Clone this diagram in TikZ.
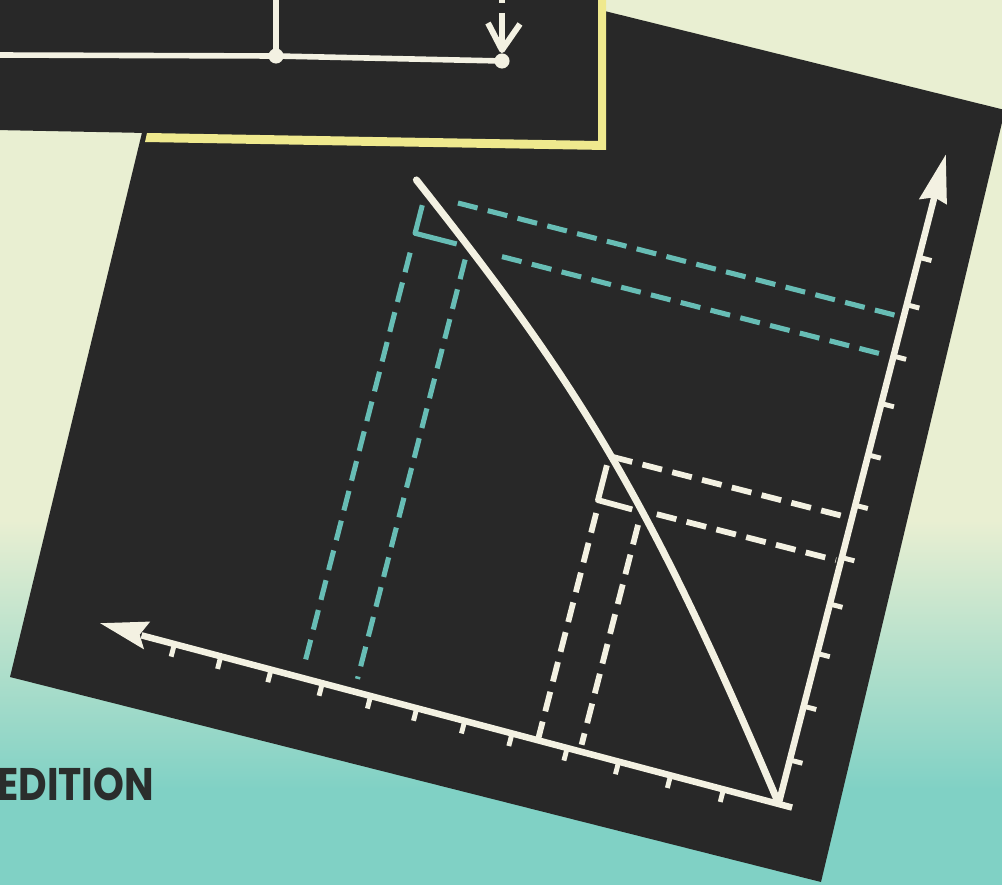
\documentclass[tikz,border=0pt]{standalone}
\usepackage{graphicx}
\usepackage{fontspec}
\newfontfamily\posterfont{Poppins}
\definecolor{palec}{HTML}{E9EFD2}
\definecolor{tealc}{HTML}{80D1C5}
\definecolor{boardc}{HTML}{282828}
\definecolor{chalkc}{HTML}{F3F1E2}
\definecolor{cyanc}{HTML}{67BDB5}
\definecolor{yellowc}{HTML}{EFE98E}
\definecolor{inkc}{HTML}{2A2D2C}
\tikzset{
  wire/.style={draw=chalkc, line width=3.2pt},
  axisline/.style={draw=chalkc, line width=3.7pt},
  tickmark/.style={draw=chalkc, line width=2.8pt},
  curveline/.style={draw=chalkc, line width=4pt, line cap=round},
  cyandash/.style={draw=cyanc, line width=2.9pt, dash pattern=on 11.5pt off 6pt},
  chalkdash/.style={draw=chalkc, line width=3.3pt, dash pattern=on 11.5pt off 6pt},
  cyanleg/.style={draw=cyanc, line width=2.9pt},
  chalkleg/.style={draw=chalkc, line width=3.3pt},
}
\begin{document}
\begin{tikzpicture}[x=0.02cm, y=-0.02cm, line join=round]
\useasboundingbox (0,0) rectangle (1002,885);
\clip (0,0) rectangle (1002,885);
% background
\fill[palec] (-5,-5) rectangle (1010,522);
\shade[top color=palec, bottom color=tealc] (-5,520) rectangle (1010,790);
\fill[tealc] (-5,788) rectangle (1010,890);
% rotated board
\fill[boardc] (10,677) -- (821,882) -- (1005,110) -- (196,-90) -- cycle;
% top board
\fill[boardc] (-5,-5) -- (598,-5) -- (598,141) -- (147,133) -- (-5,130) -- cycle;
\fill[yellowc] (598,-5) -- (606,-5) -- (606,150) -- (145,142) -- (147,133) -- (598,141) -- cycle;
% wiring in top board
\coordinate (wl) at (-5,55);
\coordinate (d1) at (276,56);
\coordinate (d2) at (502,61);
\coordinate (vt) at (276,-5);
\draw[wire] (wl) -- (d1) -- (d2);
\draw[wire] (vt) -- (d1);
\fill[chalkc] (d1) circle[radius=4.3pt];
\fill[chalkc] (d2) circle[radius=4.3pt];
\coordinate (ar0) at (502,-5);
\coordinate (ar1) at (502,3);
\coordinate (ar2) at (502,13);
\coordinate (ar3) at (502,47);
\coordinate (tip) at (502,50);
\draw[wire] (ar0) -- (ar1);
\draw[wire] (ar2) -- (ar3);
\draw[wire, line width=3.4pt] (488,23) -- (tip) -- (520,24);
% graph
\begin{scope}[shift={(777,798)}, rotate=165.6]
  \coordinate (hx0) at (-17,-5.5);
  \coordinate (hx1) at (656,-0.5);
  \coordinate (vy0) at (-3,-8);
  \coordinate (vy1) at (-3,622);
  \draw[axisline] (hx0) -- (hx1);
  \fill[chalkc] (699,1) -- (651,15) -- (658,-0.3) -- (650,-13.5) -- cycle;
  \draw[axisline] (vy0) -- (vy1);
  \fill[chalkc] (-3.5,665) -- (11.5,615) -- (-3,621) -- (-17,617) -- cycle;
  \foreach \t in {54,108.7,162.4,215.7,272.7,321.7,371.3,419,469,522,574,622}
    \draw[tickmark] (\t,{-5.5+0.00743*(\t+17)}) -- ++(0,-13);
  \foreach \t in {40,95.5,150,201,249,303,355,408,457,510,559}
    \draw[tickmark] (-3,\t) -- ++(-13,0);
  % curve
  \coordinate (c0) at (-3,-5);
  \coordinate (c3) at (503,509);
  \draw[curveline] (c0) .. controls (202,263.6) and (298,353.2) .. (c3);
  % cyan set
  \draw[cyanleg] (491,486) -- (491,457) -- (448,457);
  \draw[cyandash] (491,437) -- (491,11);
  \draw[cyandash] (401,456) -- (3,456);
  \draw[cyandash] (457,497) -- (2,497);
  \draw[cyandash] (436,444) -- (436,11);
  % white set
  \draw[chalkleg] (247.5,280) -- (247.5,244) -- (212,243.5);
  \draw[chalkdash] (244,289.5) -- (0,289.5);
  \draw[chalkdash] (187,245) -- (2,245);
  \draw[chalkdash] (246,231) -- (246,-2);
  \draw[chalkdash] (202.5,230) -- (202.5,3);
\end{scope}
% text
\node[anchor=base west, inner sep=0pt, text=inkc, font=\posterfont\bfseries\fontsize{26pt}{26pt}\selectfont] (edition) at (-3,800) {\scalebox{0.86}[1]{EDITION}};
\end{tikzpicture}
\end{document}
